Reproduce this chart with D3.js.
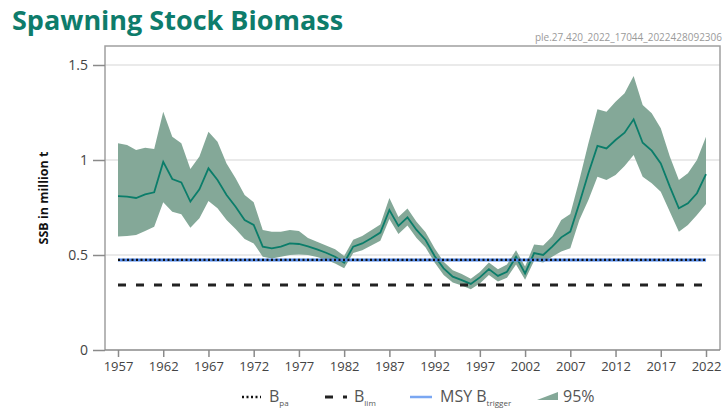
<!DOCTYPE html>
<html>
<head>
<meta charset="utf-8">
<script src="https://cdn.jsdelivr.net/npm/d3@7"></script>
<style>
  body { margin: 0; background: #fff; }
  text { font-family: "Open Sans", "Noto Sans", sans-serif; }
</style>
</head>
<body>
<script>
const width = 724;
const height = 410;

// years 1957 - 2022
const years = d3.range(1957, 2023);

const ssb = [
  0.81, 0.807, 0.80, 0.819, 0.83, 0.99, 0.90, 0.882, 0.781, 0.846,
  0.956, 0.895, 0.816, 0.754, 0.684, 0.658, 0.544, 0.535, 0.544, 0.561,
  0.558, 0.545, 0.53, 0.512, 0.491, 0.46, 0.544, 0.561, 0.588, 0.618,
  0.737, 0.653, 0.698, 0.632, 0.579, 0.495, 0.43, 0.386, 0.368, 0.348,
  0.382, 0.426, 0.39, 0.412, 0.49, 0.403, 0.51, 0.50, 0.544, 0.593,
  0.623, 0.772, 0.93, 1.074, 1.061, 1.105, 1.144, 1.214, 1.091, 1.049,
  0.982, 0.86, 0.746, 0.772, 0.825, 0.926
];

const high = [
  1.088, 1.079, 1.053, 1.065, 1.058, 1.254, 1.123, 1.088, 0.953, 1.018,
  1.149, 1.096, 0.982, 0.904, 0.816, 0.777, 0.632, 0.623, 0.623, 0.632,
  0.626, 0.59, 0.57, 0.55, 0.53, 0.495, 0.58, 0.60, 0.63, 0.66,
  0.80, 0.70, 0.745, 0.675, 0.62, 0.535, 0.465, 0.42, 0.40, 0.375,
  0.41, 0.46, 0.425, 0.45, 0.525, 0.44, 0.555, 0.55, 0.597, 0.684,
  0.716, 0.895, 1.088, 1.267, 1.254, 1.307, 1.351, 1.442, 1.289, 1.246,
  1.167, 1.018, 0.895, 0.93, 1.0, 1.123
];

const low = [
  0.597, 0.60, 0.605, 0.626, 0.649, 0.777, 0.728, 0.714, 0.644, 0.693,
  0.784, 0.746, 0.684, 0.637, 0.584, 0.561, 0.491, 0.482, 0.491, 0.50,
  0.503, 0.50, 0.49, 0.475, 0.455, 0.43, 0.51, 0.525, 0.55, 0.575,
  0.69, 0.61, 0.655, 0.59, 0.54, 0.46, 0.395, 0.355, 0.34, 0.32,
  0.35, 0.395, 0.36, 0.38, 0.45, 0.37, 0.47, 0.46, 0.491, 0.518,
  0.535, 0.684, 0.789, 0.912, 0.895, 0.921, 0.968, 1.026, 0.912, 0.877,
  0.833, 0.728, 0.623, 0.658, 0.711, 0.768
];

const bpa = 0.474;
const blim = 0.342;
const msyBtrigger = 0.474;

const xTicks = [1957, 1962, 1967, 1972, 1977, 1982, 1987, 1992, 1997, 2002, 2007, 2012, 2017, 2022];
const yTicks = [0, 0.5, 1, 1.5];

const data = years.map((yr, i) => ({ year: yr, ssb: ssb[i], high: high[i], low: low[i] }));

// plot frame
const frameLeft = 105;
const frameRight = 720;
const frameTop = 46;
const frameBottom = 350;

const x = d3.scaleLinear().domain([1957, 2022]).range([118, 706]);
const y = d3.scaleLinear().domain([0, 1.6]).range([frameBottom, frameTop]);

const svg = d3.select("body")
  .append("svg")
  .attr("width", width)
  .attr("height", height);

// title and code
svg.append("text")
  .attr("x", 12)
  .attr("y", 30)
  .style("font-size", "27px")
  .style("font-weight", "bold")
  .style("fill", "#0e7c6b")
  .text("Spawning Stock Biomass");

svg.append("text")
  .attr("x", 722)
  .attr("y", 41)
  .attr("text-anchor", "end")
  .style("font-size", "10px")
  .style("fill", "#9a9a9a")
  .text("ple.27.420_2022_17044_2022428092306");

// grid lines
svg.append("g")
  .selectAll("line")
  .data(yTicks.filter(d => d > 0))
  .join("line")
  .attr("x1", frameLeft)
  .attr("x2", frameRight)
  .attr("y1", d => y(d))
  .attr("y2", d => y(d))
  .style("stroke", "#e3e3e3")
  .style("stroke-width", 1.5);

// confidence band
const area = d3.area()
  .x(d => x(d.year))
  .y0(d => y(d.low))
  .y1(d => y(d.high));

svg.append("path")
  .datum(data)
  .attr("d", area)
  .style("fill", "#84a898");

// ssb line
const line = d3.line()
  .x(d => x(d.year))
  .y(d => y(d.ssb));

svg.append("path")
  .datum(data)
  .attr("d", line)
  .style("fill", "none")
  .style("stroke", "#0b7d6a")
  .style("stroke-width", 1.8);

// reference points
const x0 = x(years[0]);
const x1 = x(years[years.length - 1]);

svg.append("line")
  .attr("x1", x0).attr("x2", x1)
  .attr("y1", y(blim)).attr("y2", y(blim))
  .style("stroke", "#222")
  .style("stroke-width", 3)
  .style("stroke-dasharray", "8,10");

svg.append("line")
  .attr("x1", x0).attr("x2", x1)
  .attr("y1", y(msyBtrigger)).attr("y2", y(msyBtrigger))
  .style("stroke", "#4f86e8")
  .style("stroke-width", 3);

svg.append("line")
  .attr("x1", x0).attr("x2", x1)
  .attr("y1", y(bpa)).attr("y2", y(bpa))
  .style("stroke", "#111")
  .style("stroke-width", 2.2)
  .style("stroke-dasharray", "2,2.5");

// frame
svg.append("path")
  .attr("d", `M${frameLeft},${frameBottom}V${frameTop}H${frameRight}V${frameBottom}`)
  .style("fill", "none")
  .style("stroke", "#a0a0a0")
  .style("stroke-width", 1.5);

// axes
const xAxis = svg.append("g")
  .attr("transform", `translate(0,${frameBottom})`)
  .call(d3.axisBottom(x).tickValues(xTicks).tickFormat(d3.format("d")).tickSize(7).tickSizeOuter(0));

xAxis.select(".domain").attr("d", `M${frameLeft},0H${frameRight}`);

const yAxis = svg.append("g")
  .attr("transform", `translate(${frameLeft},0)`)
  .call(d3.axisLeft(y).tickValues(yTicks).tickFormat(d => String(d)).tickSize(12).tickSizeOuter(0));

yAxis.select(".domain").remove();

svg.selectAll(".tick line").style("stroke", "#8a8a8a").style("stroke-width", 1.5);
svg.selectAll(".domain").style("stroke", "#8a8a8a").style("stroke-width", 1.5);

xAxis.selectAll("text")
  .attr("y", 12)
  .style("font-size", "13px")
  .style("fill", "#444");

yAxis.selectAll("text")
  .attr("x", -17)
  .style("font-size", "14px")
  .style("fill", "#444");

// y label
svg.append("text")
  .attr("transform", "translate(48,198) rotate(-90)")
  .attr("text-anchor", "middle")
  .style("font-size", "12.5px")
  .style("font-weight", "bold")
  .style("fill", "#111")
  .text("SSB in million t");

// legend
const ly = 397;
const legend = svg.append("g").style("font-size", "16px").style("fill", "#555");

legend.append("line")
  .attr("x1", 242).attr("x2", 261).attr("y1", ly).attr("y2", ly)
  .style("stroke", "#111").style("stroke-width", 2.5).style("stroke-dasharray", "2,2.5");

legend.append("line")
  .attr("x1", 325).attr("x2", 347).attr("y1", ly).attr("y2", ly)
  .style("stroke", "#222").style("stroke-width", 3).style("stroke-dasharray", "8,10");

legend.append("line")
  .attr("x1", 410).attr("x2", 432).attr("y1", ly).attr("y2", ly)
  .style("stroke", "#7aa7f2").style("stroke-width", 2.5);

legend.append("path")
  .attr("d", "M537,400L558,392L558,400Z")
  .style("fill", "#84a898");

function legendLabel(xPos, main, sub) {
  const t = legend.append("text").attr("x", xPos).attr("y", ly + 5);
  t.append("tspan").text(main);
  if (sub) {
    t.append("tspan").attr("dy", 4).style("font-size", "8px").text(sub);
  }
}

legendLabel(269, "B", "pa");
legendLabel(354, "B", "lim");
legendLabel(440, "MSY B", "trigger");
legendLabel(563, "95%", null);
</script>
</body>
</html>
